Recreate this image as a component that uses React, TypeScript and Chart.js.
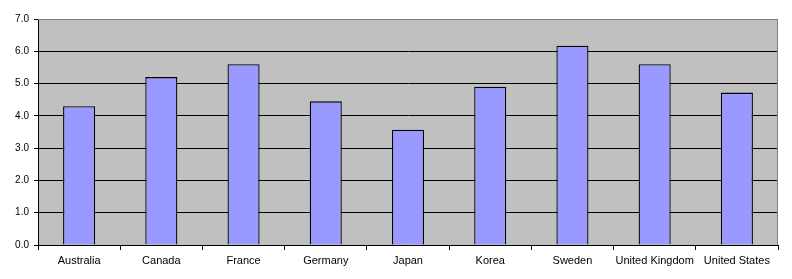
import React, { useEffect, useRef } from "react";
import { Chart, registerables } from "chart.js";

Chart.register(...registerables);

const categories = ["Australia", "Canada", "France", "Germany", "Japan", "Korea", "Sweden", "United Kingdom", "United States"];
const values = [4.3, 5.2, 5.6, 4.45, 3.57, 4.9, 6.17, 5.6, 4.72];
const yTicks = [0, 1, 2, 3, 4, 5, 6, 7];

const plotBg = {
  id: "plotBg",
  beforeDraw(chart: any) {
    const { ctx, chartArea } = chart;
    ctx.save();
    ctx.fillStyle = "#C0C0C0";
    ctx.fillRect(chartArea.left, chartArea.top, chartArea.right - chartArea.left, chartArea.bottom - chartArea.top);
    ctx.restore();
  },
  afterDatasetsDraw(chart: any) {
    const { ctx, chartArea } = chart;
    ctx.save();
    ctx.strokeStyle = "#808080";
    ctx.lineWidth = 1;
    ctx.beginPath();
    ctx.moveTo(chartArea.left, chartArea.top + 0.5);
    ctx.lineTo(Math.round(chartArea.right) - 0.5, chartArea.top + 0.5);
    ctx.lineTo(Math.round(chartArea.right) - 0.5, chartArea.bottom);
    ctx.stroke();
    ctx.restore();
  },
};

export default function App() {
  const ref = useRef<HTMLCanvasElement>(null);
  useEffect(() => {
    const chart = new Chart(ref.current!, {
      type: "bar",
      data: {
        labels: categories,
        datasets: [
          {
            data: values,
            backgroundColor: "#9999FF",
            borderColor: "#000000",
            borderWidth: 1.3,
            categoryPercentage: 1,
            barPercentage: 0.39,
          },
        ],
      },
      options: {
        animation: false,
        responsive: false,
        maintainAspectRatio: false,
        layout: { padding: { top: 19, right: 14, left: 0, bottom: 0 } },
        plugins: { legend: { display: false }, tooltip: { enabled: false } },
        scales: {
          x: {
            grid: { drawOnChartArea: false, drawTicks: true, tickLength: 5, color: "#000000", offset: true },
            border: { color: "#000000" },
            ticks: { color: "#000000", font: { family: "'Liberation Sans', Arial", size: 11 }, padding: 4, maxRotation: 0, autoSkip: false },
            afterFit(scale: any) {
              scale.height = 34;
            },
          },
          y: {
            min: 0,
            max: 7,
            afterBuildTicks(scale: any) {
              scale.ticks = yTicks.map((v) => ({ value: v }));
            },
            grid: {
              color: (c: any) => (c.tick && c.tick.value === 7 ? "#808080" : "#000000"),
              tickColor: "#000000",
              tickLength: 4,
            },
            border: { color: "#000000" },
            ticks: {
              color: "#000000",
              font: { family: "'Liberation Sans', Arial", size: 10 },
              padding: 5,
              callback: (v: any) => Number(v).toFixed(1),
            },
            afterFit(scale: any) {
              scale.width = 38;
            },
          },
        },
      },
      plugins: [plotBg],
    });
    return () => chart.destroy();
  }, []);
  return (
    <div style={{ position: "fixed", left: 0, top: 0, width: 792, height: 279, background: "#fff" }}>
      <canvas ref={ref} width={792} height={279} style={{ width: 792, height: 279 }} />
    </div>
  );
}
